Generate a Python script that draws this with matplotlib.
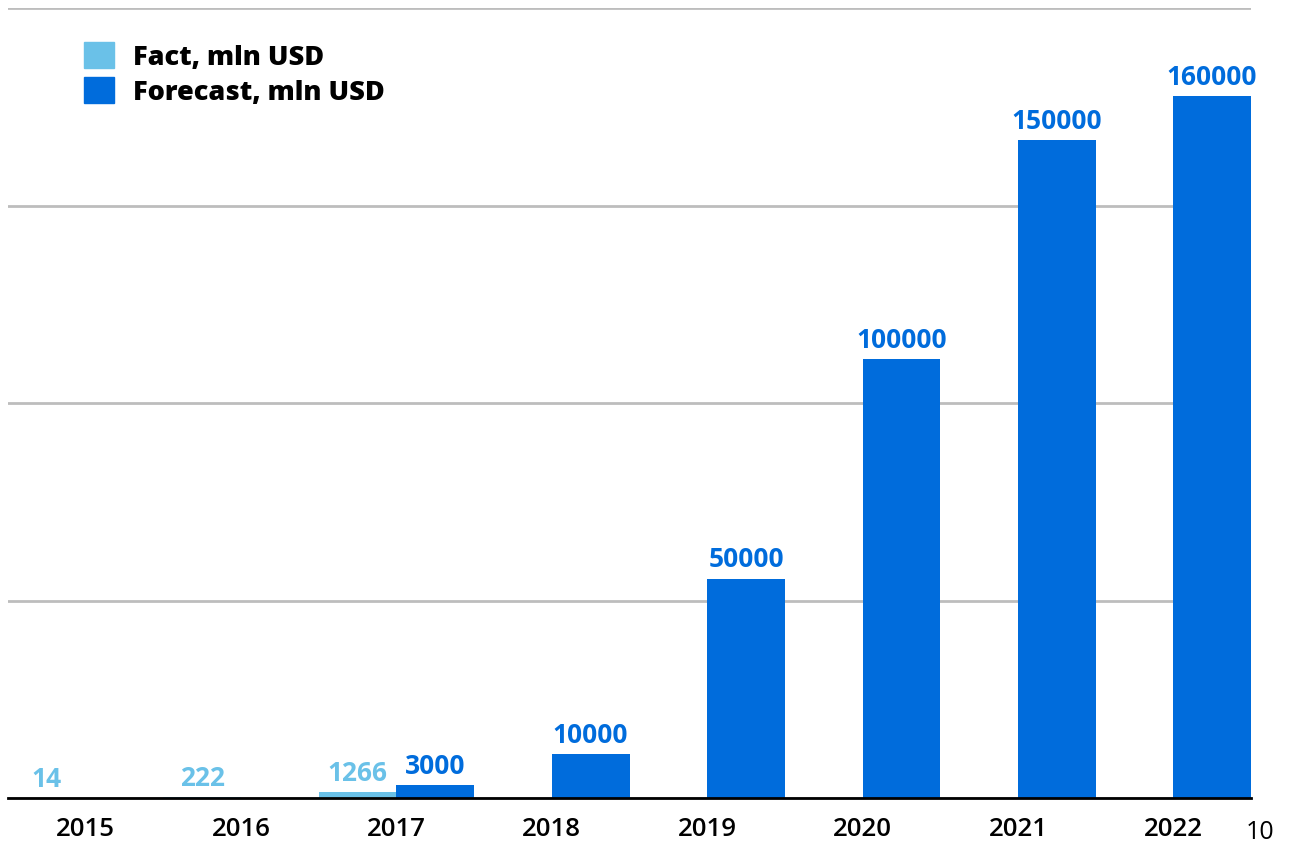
import matplotlib
matplotlib.use("Agg")
import matplotlib.pyplot as plt
from matplotlib.patches import Patch

years = ["2015", "2016", "2017", "2018", "2019", "2020", "2021", "2022"]
fact = [14, 222, 1266, None, None, None, None, None]
forecast = [None, None, 3000, 10000, 50000, 100000, 150000, 160000]

c_fact = "#6ac1e8"
c_fore = "#006cdc"

plt.rcParams['font.family'] = ['Open Sans', 'DejaVu Sans']

fig = plt.figure(figsize=(12.89, 8.45), dpi=100)
ax = fig.add_axes([8/1289, 46/845, (1251-8)/1289, (799-9)/845])

x = list(range(len(years)))
w = 0.5
for i, v in enumerate(fact):
    if v is not None:
        ax.bar(i - w/2, v, width=w, color=c_fact, zorder=3)
        ax.text(i - w/2, v + 1400, f"{v}", ha="center", va="bottom",
                color=c_fact, fontsize=19, fontweight="bold", zorder=4)
for i, v in enumerate(forecast):
    if v is not None:
        ax.bar(i + w/2, v, width=w, color=c_fore, zorder=3)
        ax.text(i + w/2, v + 1400, f"{v}", ha="center", va="bottom",
                color=c_fore, fontsize=19, fontweight="bold", zorder=4)

ax.set_xlim(-0.5, 7.5)
ax.set_ylim(0, 180000)
ax.set_yticks([0, 45000, 90000, 135000, 180000])
ax.yaxis.grid(True, color="#bdbdbd", linewidth=2, zorder=0)
ax.set_yticklabels([])
ax.tick_params(axis="y", length=0)
ax.set_xticks(x)
ax.set_xticklabels(years, fontsize=18.5, fontweight="semibold")
ax.tick_params(axis="x", length=0, pad=13)
for s in ["top", "right", "left"]:
    ax.spines[s].set_visible(False)
ax.spines["bottom"].set_linewidth(2)
ax.spines["bottom"].set_zorder(5)

handles = [Patch(color=c_fact, label="Fact, mln USD"),
           Patch(color=c_fore, label="Forecast, mln USD")]
leg = ax.legend(handles=handles, loc="upper left",
                bbox_to_anchor=((84-8)/1243, (799-43)/790),
                frameon=False, prop={"size": 19.5, "weight": "heavy"},
                handlelength=1.1, handleheight=1.1, handletextpad=0.7,
                labelspacing=0.25, borderpad=0, borderaxespad=0)

fig.text(1260/1289, 1 - 833/845, "10", fontsize=18, ha="center", va="center")

fig.savefig("out.png", dpi=100)
